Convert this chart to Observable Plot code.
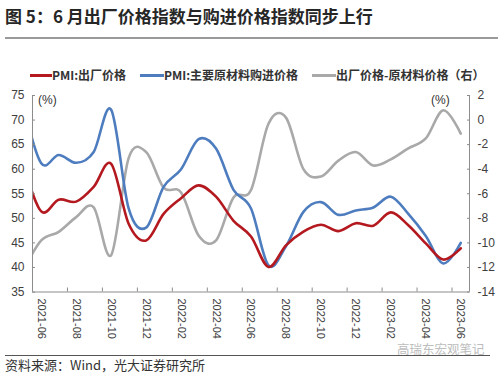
<!DOCTYPE html>
<html><head><meta charset="utf-8">
<script src="https://cdn.jsdelivr.net/npm/d3@7"></script>
<script src="https://cdn.jsdelivr.net/npm/@observablehq/plot@0.6"></script>
<style>
body{margin:0;width:500px;height:373px;position:relative;background:#fff;font-family:"Noto Sans CJK SC",sans-serif;overflow:hidden}
.abs{position:absolute;white-space:nowrap}
.sw{position:absolute;height:3px}
</style></head><body>
<div class="abs" style="left:5px;top:3px;font-size:17px;font-weight:bold;color:#262626;line-height:26px">图 5：6 月出厂价格指数与购进价格指数同步上行</div>
<div class="abs" style="left:5px;top:37px;width:493px;height:2px;background:#9a9a9a"></div>
<div id="legend"></div>
<div id="chart" class="abs" style="left:0;top:85px"></div>
<div class="abs" style="left:38px;top:92px;font-size:12px;color:#333;line-height:16px;font-family:'Liberation Sans',sans-serif">(%)</div>
<div class="abs" style="left:431px;top:92px;font-size:12px;color:#333;line-height:16px;font-family:'Liberation Sans',sans-serif">(%)</div>
<div class="abs" style="left:397px;top:341px;font-size:12.5px;color:#bdbdbd;line-height:16px">高瑞东宏观笔记</div>
<div class="abs" style="left:5px;top:355px;width:485px;height:1px;background:#555"></div>
<div class="abs" style="left:5px;top:357px;font-size:13px;color:#333;line-height:16px">资料来源：Wind，光大证券研究所</div>
<script>
// Months (first entry lies just before the visible axis window)
const months = ["2021-05","2021-06","2021-07","2021-08","2021-09","2021-10","2021-11","2021-12",
  "2022-01","2022-02","2022-03","2022-04","2022-05","2022-06","2022-07","2022-08","2022-09","2022-10","2022-11","2022-12",
  "2023-01","2023-02","2023-03","2023-04","2023-05","2023-06"];
const outputPrice = [60.6,51.4,53.8,53.4,56.4,61.1,48.9,45.5,50.9,54.1,56.7,54.4,49.5,46.3,40.1,44.5,47.3,48.7,47.4,49.0,48.5,51.2,48.6,44.9,41.6,43.9];
const inputPrice  = [72.8,61.2,62.9,61.3,63.5,72.1,52.0,48.1,56.4,60.0,66.1,64.2,55.8,52.0,40.4,44.3,51.3,53.3,50.7,51.6,52.2,54.4,50.9,46.4,40.8,45.0];
const spread      = [-12.2,-9.8,-9.1,-7.9,-7.1,-11.0,-3.1,-2.6,-5.5,-5.9,-9.4,-9.8,-6.3,-5.7,-0.3,0.2,-4.0,-4.6,-3.3,-2.6,-3.7,-3.2,-2.3,-1.5,0.8,-1.1];
const seriesNames = ["PMI:出厂价格","PMI:主要原材料购进价格","出厂价格-原材料价格（右）"];
const seriesColors = ["#B3191F","#4E7DBF","#A9A9A9"];
const leftTicks = [35,40,45,50,55,60,65,70,75];
const rightTicks = [2,0,-2,-4,-6,-8,-10,-12,-14];
const xLabelMonths = ["2021-06","2021-08","2021-10","2021-12","2022-02","2022-04","2022-06","2022-08","2022-10","2022-12","2023-02","2023-04","2023-06"];

// right axis (-14..2) mapped onto left axis (35..75)
const toLeft = v => 75 + (v - 2) * 2.5;
const fromLeft = v => Math.round((v - 75) / 2.5 + 2);
const idx = m => months.indexOf(m) - 1;

const rows = months.map((m, i) => ({t: i - 1, out: outputPrice[i], inp: inputPrice[i], spr: spread[i]}));
const labelPos = xLabelMonths.map(idx);
const tickPos = labelPos.slice(0, -1).map(p => p + 1.5);

const axisColor = "#8c8c8c";
const textColor = "#404040";
const lineOpts = {x: "t", strokeWidth: 2.6, curve: "cardinal", tension: 0, clip: "frame"};

const chart = Plot.plot({
  width: 500, height: 265,
  marginLeft: 32, marginRight: 31, marginTop: 10, marginBottom: 58.5,
  x: {domain: [-0.5, 24.5]},
  y: {domain: [35, 75]},
  style: {fontFamily: "'Liberation Sans', sans-serif", fontSize: "12px", color: textColor, background: "transparent", overflow: "visible"},
  marks: [
    Plot.lineY(rows, {...lineOpts, y: d => toLeft(d.spr), stroke: seriesColors[2]}),
    Plot.lineY(rows, {...lineOpts, y: "inp", stroke: seriesColors[1]}),
    Plot.lineY(rows, {...lineOpts, y: "out", stroke: seriesColors[0]}),
    Plot.ruleX([-0.5, 24.5], {stroke: axisColor}),
    Plot.ruleY([35], {stroke: axisColor}),
    Plot.axisY(leftTicks, {anchor: "left", tickSize: -3, tickPadding: 11, stroke: axisColor, fill: textColor, label: null}),
    Plot.axisY(rightTicks.map(toLeft), {anchor: "right", tickSize: -3, tickPadding: 11, tickFormat: v => String(fromLeft(v)), stroke: axisColor, fill: textColor, label: null}),
    Plot.axisX(tickPos, {anchor: "bottom", tickSize: -4, tickFormat: () => "", stroke: axisColor, label: null}),
    Plot.axisX(labelPos, {anchor: "bottom", tickSize: 0, tickPadding: 6.5, tickRotate: 90, fontSize: 11, tickFormat: t => months[t + 1], fill: textColor, label: null})
  ]
});
document.getElementById("chart").appendChild(chart);

// legend
const legendPos = [[30, 52], [140, 164], [312, 336]];
const lg = document.getElementById("legend");
seriesNames.forEach((name, i) => {
  const sw = document.createElement("div");
  sw.className = "sw";
  sw.style.cssText = `left:${legendPos[i][0]}px;top:74px;width:${legendPos[i][1] - legendPos[i][0]}px;background:${seriesColors[i]}`;
  lg.appendChild(sw);
  const tx = document.createElement("div");
  tx.className = "abs";
  tx.style.cssText = `left:${legendPos[i][1]}px;top:67px;font-size:12px;line-height:16px;color:#333;font-weight:bold`;
  tx.textContent = name;
  lg.appendChild(tx);
});
</script>
</body></html>
